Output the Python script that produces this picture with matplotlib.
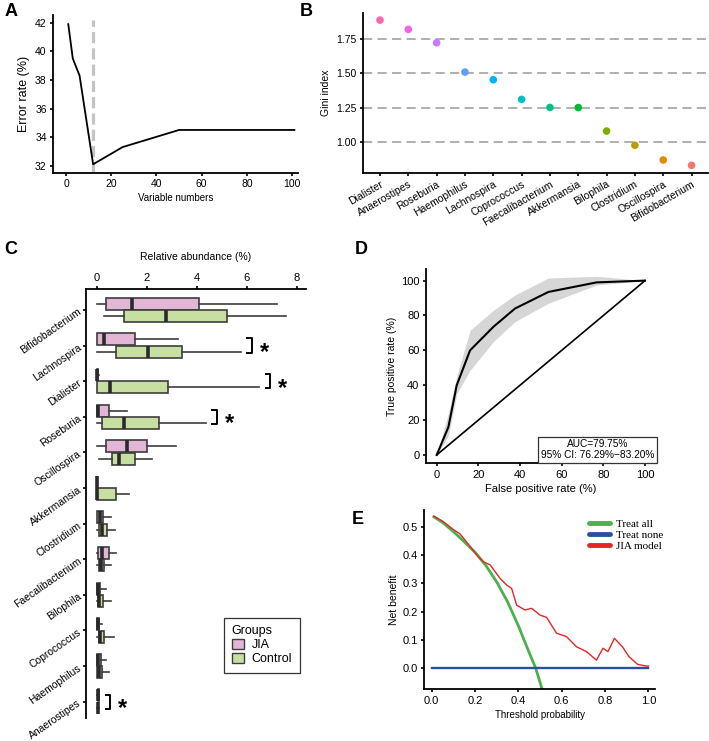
import matplotlib.pyplot as plt
from matplotlib.patches import Patch

plt.rcParams['font.family'] = ['Liberation Sans', 'DejaVu Sans']

W, H = 709, 741

# ---- A: error rate vs number of variables
var_numbers = [1, 3, 6, 12, 25, 50, 101]
error_rate = [41.9, 39.5, 38.3, 32.1, 33.3, 34.5, 34.5]
best_n = 12

# ---- B: gini index
gini_taxa = ["Dialister", "Anaerostipes", "Roseburia", "Haemophilus", "Lachnospira",
             "Coprococcus", "Faecalibacterium", "Akkermansia", "Bilophila",
             "Clostridium", "Oscillospira", "Bifidobacterium"]
gini_index = [1.891, 1.823, 1.725, 1.510, 1.454, 1.310, 1.251, 1.250, 1.078, 0.974, 0.866, 0.827]
gini_colors = ["#FF64B0", "#F564E3", "#C77CFF", "#619CFF", "#00B4F0", "#00BFC4",
               "#00C08B", "#00BA38", "#7CAE00", "#B79F00", "#DE8C00", "#F8766D"]

# ---- C: relative abundance boxplots
box_taxa = ["Bifidobacterium", "Lachnospira", "Dialister", "Roseburia", "Oscillospira",
            "Akkermansia", "Clostridium", "Faecalibacterium", "Bilophila",
            "Coprococcus", "Haemophilus", "Anaerostipes"]
jia_lo = [0.0, 0.0, 0.0, 0.0, 0.0, 0.0, 0.0, 0.0, 0.0, 0.0, 0.0, 0.02]
jia_q1 = [0.36, 0.0, 0.0, 0.0, 0.36, 0.0, 0.02, 0.04, 0.0, 0.0, 0.0, 0.04]
jia_med = [1.41, 0.27, 0.02, 0.05, 1.2, 0.0, 0.12, 0.2, 0.05, 0.03, 0.05, 0.05]
jia_q3 = [4.1, 1.53, 0.06, 0.5, 2.0, 0.0, 0.25, 0.47, 0.13, 0.1, 0.16, 0.08]
jia_hi = [7.2, 3.24, 0.1, 1.2, 3.17, 0.0, 0.56, 0.76, 0.36, 0.2, 0.36, 0.1]
ctrl_lo = [0.3, 0.0, 0.0, 0.0, 0.1, 0.0, 0.0, 0.0, 0.0, 0.0, 0.0, 0.01]
ctrl_q1 = [1.08, 0.75, 0.0, 0.19, 0.61, 0.0, 0.09, 0.08, 0.03, 0.09, 0.0, 0.03]
ctrl_med = [2.77, 2.04, 0.53, 1.07, 0.9, 0.02, 0.2, 0.16, 0.1, 0.12, 0.08, 0.04]
ctrl_q3 = [5.2, 3.4, 2.83, 2.5, 1.52, 0.75, 0.4, 0.29, 0.24, 0.3, 0.21, 0.06]
ctrl_hi = [7.56, 5.76, 6.5, 4.36, 2.2, 1.3, 0.73, 0.56, 0.56, 0.69, 0.47, 0.08]
sig_taxa = ["Lachnospira", "Dialister", "Roseburia", "Anaerostipes"]

# ---- D: ROC
roc_fpr = [0, 5.6, 9.6, 16, 27.2, 37.6, 53.6, 76.8, 100]
roc_tpr = [0, 16, 40, 60, 73.5, 84, 93.5, 99, 100]
ci_upper = [0, 24, 45, 71.5, 83, 91.8, 101.5, 102.5, 100]
ci_lower = [0, 11, 35, 48.5, 65, 76.5, 87, 97.5, 100]
auc_text = "AUC=79.75%\n95% CI: 76.29%\u221283.20%"

# ---- E: decision curve
ta_threshold = [0.01, 0.05, 0.10, 0.15, 0.20, 0.25, 0.30, 0.35, 0.40, 0.45, 0.48, 0.51]
ta_benefit = [0.535, 0.515, 0.483, 0.447, 0.410, 0.363, 0.305, 0.235, 0.150, 0.055, 0.0, -0.075]
none_threshold = [0.0, 1.0]
none_benefit = [0.0, 0.0]
model_threshold = [0.01, 0.05, 0.10, 0.13, 0.16, 0.208, 0.239, 0.27, 0.315, 0.346, 0.369,
                   0.392, 0.43, 0.461, 0.50, 0.53, 0.576, 0.622, 0.668, 0.714, 0.76, 0.79,
                   0.813, 0.843, 0.88, 0.91, 0.95, 0.99, 1.0]
model_benefit = [0.537, 0.52, 0.49, 0.475, 0.447, 0.40, 0.376, 0.365, 0.318, 0.294, 0.282,
                 0.223, 0.206, 0.212, 0.188, 0.18, 0.124, 0.112, 0.076, 0.059, 0.029, 0.071,
                 0.059, 0.106, 0.076, 0.041, 0.014, 0.008, 0.008]


def px_axes(fig, left, top, right, bottom):
    # place an axes by pixel edges (origin top-left)
    return fig.add_axes([left / W, 1 - bottom / H, (right - left) / W, (bottom - top) / H])


def style_axes(ax, spines=("left", "bottom"), size=7.5):
    for s in ax.spines:
        ax.spines[s].set_visible(s in spines)
        ax.spines[s].set_linewidth(1.3)
    ax.tick_params(length=2.5, width=1.2, labelsize=size, pad=2)


fig = plt.figure(figsize=(W / 100, H / 100), dpi=100)

# A
ax = px_axes(fig, 53, 15, 298, 173)
ax.axvline(best_n, ymax=0.97, color="#c4c4c4", lw=2.3, dashes=(3.5, 1.6))
ax.plot(var_numbers, error_rate, color="black", lw=1.3)
ax.set_xlim(-5.75, 102.6)
ax.set_ylim(31.49, 42.54)
ax.set_xticks(range(0, 101, 20))
ax.set_yticks(range(32, 43, 2))
style_axes(ax)
ax.set_xlabel("Variable numbers", fontsize=7, labelpad=3)
ax.set_ylabel("Error rate (%)", fontsize=9, labelpad=4)

# B
ax = px_axes(fig, 362.7, 13, 708, 172.7)
xb = range(len(gini_taxa))
for yv in [1.0, 1.25, 1.5, 1.75]:
    ax.axhline(yv, color="#9a9a9a", lw=1.1, ls=(0, (6, 3.5)), zorder=1)
ax.scatter(xb, gini_index, c=gini_colors, s=30, zorder=3, edgecolors="none")
ax.set_xlim(-0.61, 11.58)
ax.set_ylim(0.773, 1.943)
ax.set_yticks([1.0, 1.25, 1.5, 1.75])
ax.set_xticks(list(xb))
style_axes(ax, size=7.5)
ax.set_xticklabels(gini_taxa, rotation=30, ha="right", rotation_mode="anchor", fontsize=7.5)
ax.set_ylabel("Gini index", fontsize=7.5, labelpad=4)

# C
ax = px_axes(fig, 86, 289, 306, 718)
jia_col, ctrl_col = "#E4B6D6", "#C8DFA2"
edge = "#3d3d3d"
n = len(box_taxa)
groups = [
    (jia_lo, jia_q1, jia_med, jia_q3, jia_hi, -0.175, jia_col),
    (ctrl_lo, ctrl_q1, ctrl_med, ctrl_q3, ctrl_hi, 0.175, ctrl_col),
]
for lo, q1, med, q3, hi, off, col in groups:
    stats = [dict(whislo=lo[i], q1=q1[i], med=med[i], q3=q3[i], whishi=hi[i], fliers=[])
             for i in range(n)]
    ax.bxp(stats, positions=[i + off for i in range(n)], widths=0.34, vert=False,
           patch_artist=True, showcaps=False, showfliers=False,
           boxprops=dict(facecolor=col, edgecolor=edge, lw=1.2),
           whiskerprops=dict(color=edge, lw=1.2),
           medianprops=dict(color="#2a2a2a", lw=2.6, solid_capstyle="butt"))
for name in sig_taxa:
    i = box_taxa.index(name)
    x0 = max(jia_hi[i], ctrl_hi[i]) + 0.25
    x1 = x0 + 0.18
    ax.plot([x0, x1, x1, x0], [i - 0.2, i - 0.2, i + 0.2, i + 0.2], color="black", lw=1.4)
    ax.text(x1 + 0.5, i + 0.2, "*", fontsize=17, fontweight="bold", ha="center", va="center")
ax.set_xlim(-0.43, 8.37)
ax.set_ylim(11.46, -0.59)
ax.set_yticks(range(n))
ax.set_xticks(range(0, 9, 2))
ax.xaxis.tick_top()
ax.xaxis.set_label_position("top")
style_axes(ax, spines=("left", "top"), size=8)
ax.set_yticklabels(box_taxa, rotation=35, ha="right", rotation_mode="anchor", fontsize=7.5)
ax.set_xlabel("Relative abundance (%)", fontsize=7.5, labelpad=9)
handles = [Patch(facecolor=jia_col, edgecolor=edge, lw=1.0, label="JIA"),
           Patch(facecolor=ctrl_col, edgecolor=edge, lw=1.0, label="Control")]
leg = fig.legend(handles=handles, title="Groups", loc="upper left",
                 bbox_to_anchor=(218 / W, 1 - 611.7 / H), fontsize=9, title_fontsize=9,
                 fancybox=False, edgecolor="black", handlelength=1.0, handleheight=0.8,
                 handletextpad=0.6, labelspacing=0.15, borderpad=0.6, alignment="left")
leg.get_frame().set_linewidth(0.9)

# D
ax = px_axes(fig, 425.7, 269.3, 655, 463.3)
ax.fill_between(roc_fpr, ci_lower, ci_upper, color="#d6d6d6", lw=0)
ax.plot([0, 100], [0, 100], color="black", lw=1.2)
ax.plot(roc_fpr, roc_tpr, color="black", lw=1.5)
ax.set_xlim(-5.3, 104.8)
ax.set_ylim(-4.8, 106.5)
ax.set_xticks(range(0, 101, 20))
ax.set_yticks(range(0, 101, 20))
style_axes(ax, size=8)
ax.text(77.2, 3.0, auc_text, fontsize=7.3, ha="center", va="center", linespacing=1.1,
        bbox=dict(boxstyle="square,pad=0.25", facecolor="white", edgecolor="#333333", lw=0.9))
ax.set_xlabel("False positive rate (%)", fontsize=8, labelpad=3)
ax.set_ylabel("True positive rate (%)", fontsize=7.5, labelpad=3)

# E
ax = px_axes(fig, 424.3, 510, 655, 689.3)
ax.plot(ta_threshold, ta_benefit, color="#4DB04F", lw=2.0, label="Treat all")
ax.plot(none_threshold, none_benefit, color="#2A4F9E", lw=1.7, label="Treat none")
ax.plot(model_threshold, model_benefit, color="#E32626", lw=1.0, label="JIA model")
ax.set_xlim(-0.034, 1.03)
ax.set_ylim(-0.074, 0.559)
ax.set_xticks([0.0, 0.2, 0.4, 0.6, 0.8, 1.0])
ax.set_yticks([0.0, 0.1, 0.2, 0.3, 0.4, 0.5])
style_axes(ax, size=8)
ax.set_xlabel("Threshold probability", fontsize=7, labelpad=3)
ax.set_ylabel("Net benefit", fontsize=7.5, labelpad=3)
leg = ax.legend(loc="upper left", bbox_to_anchor=(583 / W, 1 - 514 / H),
                bbox_transform=fig.transFigure, frameon=False, borderpad=0,
                handlelength=1.9, handletextpad=0.6, labelspacing=0.1,
                prop=dict(family="Liberation Serif", size=8))
for line in leg.get_lines():
    line.set_linewidth(3.5)
    line.set_solid_capstyle("round")

# panel letters
for letter, x, y in [("A", 5, 3), ("B", 300, 3), ("C", 4, 241), ("D", 355, 241), ("E", 352, 511)]:
    fig.text(x / W, 1 - y / H, letter, fontsize=13, fontweight="bold", ha="left", va="top")

fig.savefig("out.png", dpi=100)
